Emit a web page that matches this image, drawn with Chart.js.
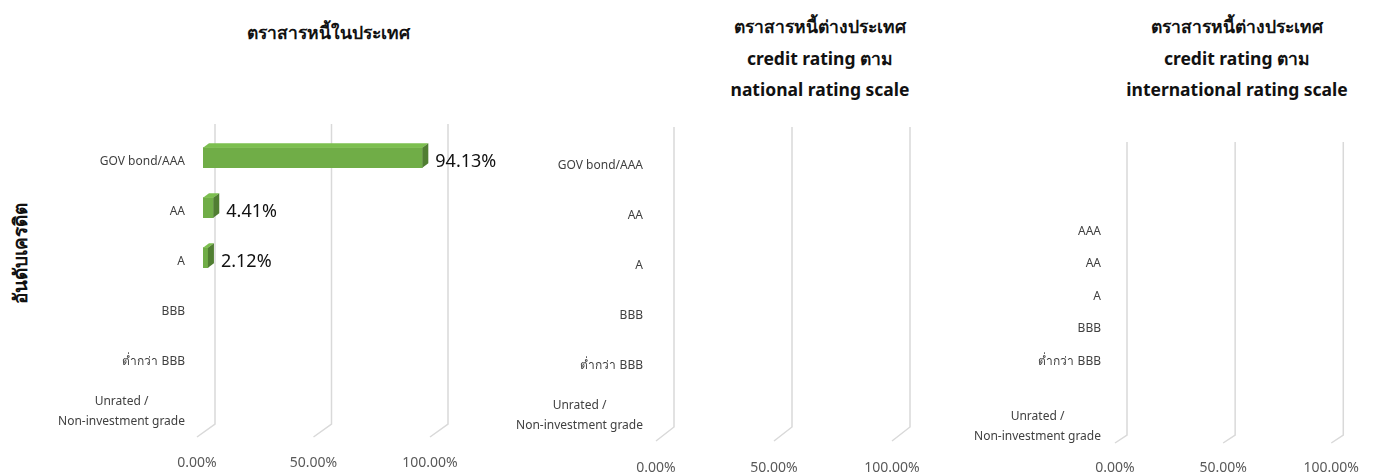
<!DOCTYPE html>
<html>
<head>
<meta charset="utf-8">
<script src="https://cdn.jsdelivr.net/npm/chart.js@4.4.1/dist/chart.umd.min.js"></script>
<style>
  body { margin: 0; background: #fff; width: 1376px; height: 476px; position: relative; overflow: hidden;
         font-family: "Noto Sans", "Open Sans", sans-serif; }
  canvas { position: absolute; top: 0; }
  .title { position: absolute; text-align: center; font-weight: bold; font-size: 17.5px; line-height: 31.5px;
           color: #111; white-space: nowrap; transform: translateX(-50%); }
  .ytitle { position: absolute; left: 20px; top: 253px; transform: translate(-50%, -50%) rotate(-90deg);
            font-weight: bold; font-size: 19px; color: #111; white-space: nowrap; }
</style>
</head>
<body>
<div class="title" style="left:328px; top:17px;">ตราสารหนี้ในประเทศ</div>
<div class="title" style="left:820px; top:11px;">ตราสารหนี้ต่างประเทศ<br>credit rating ตาม<br>national rating scale</div>
<div class="title" style="left:1237px; top:11px;">ตราสารหนี้ต่างประเทศ<br>credit rating ตาม<br>international rating scale</div>
<div class="ytitle">อันดับเครดิต</div>

<canvas id="c1" width="520" height="476" style="left:0px"></canvas>
<canvas id="c2" width="450" height="476" style="left:500px"></canvas>
<canvas id="c3" width="426" height="476" style="left:950px"></canvas>

<script>
// data
const domesticLabels = ['GOV bond/AAA', 'AA', 'A', 'BBB', 'ต่ำกว่า BBB', ['Unrated /', 'Non-investment grade']];
const domesticValues = [94.13, 4.41, 2.12, null, null, null];

const nationalLabels = ['GOV bond/AAA', 'AA', 'A', 'BBB', 'ต่ำกว่า BBB', ['Unrated /', 'Non-investment grade']];
const nationalValues = [null, null, null, null, null, null];

const intlLabels = ['', '', 'AAA', 'AA', 'A', 'BBB', 'ต่ำกว่า BBB', '', ['Unrated /', 'Non-investment grade']];
const intlValues = [null, null, null, null, null, null, null, null, null];

const xTickValues = [0, 50, 100];

const FONT = '"Noto Sans", "Open Sans", sans-serif';

// fake 3D: back grid wall, bar top/side faces, category labels, value labels
const depth3d = {
  id: 'depth3d',
  beforeDatasetsDraw(chart, args, o) {
    const { ctx, chartArea: a, scales: { x, y } } = chart;
    ctx.save();
    ctx.strokeStyle = '#d9d9d9';
    ctx.lineWidth = 1.5;
    x.ticks.forEach(t => {
      const fx = x.getPixelForValue(t.value);
      ctx.beginPath();
      ctx.moveTo(fx + o.dx, a.top + o.dy);
      ctx.lineTo(fx + o.dx, a.bottom + o.dy);
      ctx.lineTo(fx, a.bottom);
      ctx.stroke();
    });
    ctx.restore();

    // category labels (multi-line ones are centred like Excel does)
    ctx.save();
    ctx.fillStyle = '#404040';
    ctx.font = '12px ' + FONT;
    ctx.textBaseline = 'middle';
    chart.data.labels.forEach((lab, i) => {
      const cy = y.getPixelForTick(i);
      const right = a.left - o.gap;
      if (Array.isArray(lab)) {
        const w = Math.max(...lab.map(s => ctx.measureText(s).width));
        ctx.textAlign = 'center';
        lab.forEach((s, k) => ctx.fillText(s, right - w / 2, cy + (k - (lab.length - 1) / 2) * 20));
      } else {
        ctx.textAlign = 'right';
        ctx.fillText(lab, right, cy);
      }
    });
    ctx.restore();

    // push bars to the middle of the depth
    ctx.save();
    ctx.translate(o.dx / 3, o.dy / 3);
  },
  afterDatasetsDraw(chart, args, o) {
    const ctx = chart.ctx;
    const bx = o.dx / 3, by = o.dy / 3;
    const meta = chart.getDatasetMeta(0);
    const vals = chart.data.datasets[0].data;
    meta.data.forEach((bar, i) => {
      if (vals[i] == null) return;
      const p = bar.getProps(['x', 'y', 'base', 'height'], true);
      const y0 = p.y - p.height / 2, y1 = p.y + p.height / 2;
      ctx.fillStyle = '#7cbf4f';
      ctx.beginPath();
      ctx.moveTo(p.base, y0); ctx.lineTo(p.x, y0);
      ctx.lineTo(p.x + bx, y0 + by); ctx.lineTo(p.base + bx, y0 + by);
      ctx.closePath(); ctx.fill();
      ctx.fillStyle = '#507e32';
      ctx.beginPath();
      ctx.moveTo(p.x, y0); ctx.lineTo(p.x + bx, y0 + by);
      ctx.lineTo(p.x + bx, y1 + by); ctx.lineTo(p.x, y1);
      ctx.closePath(); ctx.fill();
    });
    ctx.restore();

    ctx.save();
    ctx.fillStyle = '#111';
    ctx.font = '18px ' + FONT;
    ctx.textAlign = 'left';
    ctx.textBaseline = 'middle';
    meta.data.forEach((bar, i) => {
      if (vals[i] == null) return;
      const p = bar.getProps(['x', 'y'], true);
      ctx.fillText(vals[i].toFixed(2) + '%', p.x + bx * 2 + 7, p.y);
    });
    ctx.restore();
  }
};

function makeChart(id, labels, values, c) {
  const canvas = document.getElementById(id);
  return new Chart(canvas, {
    type: 'bar',
    data: {
      labels: labels,
      datasets: [{ data: values, backgroundColor: '#70ad47', borderWidth: 0, barThickness: c.bar }]
    },
    options: {
      indexAxis: 'y',
      responsive: false,
      animation: false,
      layout: { padding: { left: 0, right: canvas.width - c.right, top: c.top, bottom: 0 } },
      plugins: {
        legend: { display: false },
        tooltip: { enabled: false },
        depth3d: { dx: c.dx, dy: c.dy, gap: c.gap }
      },
      scales: {
        x: {
          min: 0, max: 100,
          afterBuildTicks: s => { s.ticks = xTickValues.map(v => ({ value: v })); },
          afterFit: s => { s.height = canvas.height - c.bottom; },
          grid: { display: false, drawTicks: false },
          border: { display: false },
          ticks: { color: '#595959', font: { size: 14, family: FONT }, padding: c.tickPad,
                   callback: v => v.toFixed(2) + '%' }
        },
        y: {
          afterFit: s => { s.width = c.left; },
          grid: { display: false, drawTicks: false },
          border: { display: false },
          ticks: { display: false }
        }
      }
    },
    plugins: [depth3d]
  });
}

makeChart('c1', domesticLabels, domesticValues,
  { left: 197, right: 430, top: 137, bottom: 437, dx: 18, dy: -13, gap: 12, bar: 20, tickPad: 18 });
makeChart('c2', nationalLabels, nationalValues,
  { left: 156, right: 392, top: 141, bottom: 441, dx: 18, dy: -14, gap: 13, bar: 20, tickPad: 19 });
makeChart('c3', intlLabels, intlValues,
  { left: 165, right: 384, top: 150, bottom: 443, dx: 12, dy: -8, gap: 14, bar: 13, tickPad: 17 });
</script>
</body>
</html>
